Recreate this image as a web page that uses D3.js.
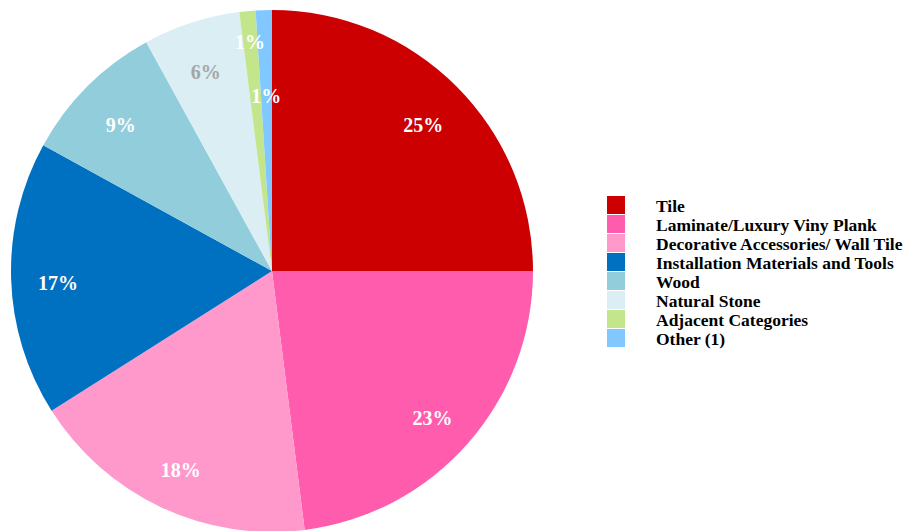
<!DOCTYPE html>
<html>
<head>
<meta charset="utf-8">
<script src="https://cdn.jsdelivr.net/npm/d3@7"></script>
<style>
  body { margin: 0; background: #fff; }
  svg { display: block; }
  .label { font-family: "Liberation Serif", "Times New Roman", serif; font-weight: bold; font-size: 20px; }
  .legend text { font-family: "Liberation Serif", "Times New Roman", serif; font-weight: bold; font-size: 17.5px; fill: #000; }
</style>
</head>
<body>
<svg id="chart" width="909" height="531"></svg>
<script>
const categories = [
  "Tile",
  "Laminate/Luxury Viny Plank",
  "Decorative Accessories/ Wall Tile",
  "Installation Materials and Tools",
  "Wood",
  "Natural Stone",
  "Adjacent Categories",
  "Other (1)"
];
const shares = [25, 23, 18, 17, 9, 6, 1, 1];
const colors = ["#CC0000", "#FF5CAD", "#FF99CC", "#0070C0", "#92CDDC", "#DAEEF3", "#C3E58B", "#80C8FF"];
const labelColors = ["#fff", "#fff", "#fff", "#fff", "#fff", "#a6a6a6", "#fff", "#fff"];

const svg = d3.select("#chart");
const cx = 272, cy = 271, radius = 261;

const pie = d3.pie().sort(null).value((d) => d.value);
const arc = d3.arc().innerRadius(0).outerRadius(radius);

const data = categories.map((c, i) => ({ name: c, value: shares[i], color: colors[i] }));
const arcs = pie(data);

const g = svg.append("g").attr("transform", `translate(${cx},${cy})`);

g.selectAll("path.slice")
  .data(arcs)
  .join("path")
  .attr("class", "slice")
  .attr("d", arc)
  .attr("fill", (d) => d.data.color);

// label distance as a fraction of the radius; the two thin slices are staggered
const labelR = (i) => (i === 6 ? 0.9 : i === 7 ? 0.69 : 0.82);
const labelPos = (d, i) => {
  const a = (d.startAngle + d.endAngle) / 2;
  const r = radius * labelR(i);
  return [Math.sin(a) * r, -Math.cos(a) * r];
};

g.selectAll("text.label")
  .data(arcs)
  .join("text")
  .attr("class", "label")
  .attr("transform", (d, i) => `translate(${labelPos(d, i)})`)
  .attr("text-anchor", "middle")
  .attr("dy", "0.6em")
  .attr("fill", (d, i) => labelColors[i])
  .text((d) => `${d.data.value}%`);

// Legend
const rowH = 19;
const legend = svg.append("g").attr("class", "legend").attr("transform", "translate(607,196)");
const rows = legend.selectAll("g")
  .data(data)
  .join("g")
  .attr("transform", (d, i) => `translate(0,${i * rowH})`);

rows.append("rect")
  .attr("width", 18)
  .attr("height", rowH - 1)
  .attr("fill", (d) => d.color);

rows.append("text")
  .attr("x", 49)
  .attr("y", rowH / 2)
  .attr("dy", "0.35em")
  .text((d) => d.name);
</script>
</body>
</html>
